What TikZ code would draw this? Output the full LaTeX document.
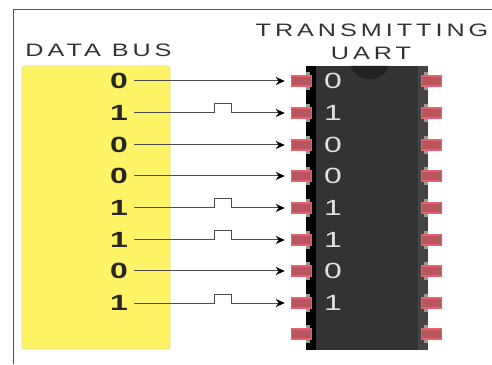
\documentclass[tikz,border=0pt]{standalone}
\usepackage{fontspec}
\setmainfont{Liberation Sans}
\newfontfamily\titlefont[FakeStretch=1.4,LetterSpace=22]{Liberation Sans}
\newfontfamily\digitfont[FakeStretch=1.45]{Liberation Sans}
\usetikzlibrary{arrows.meta}
\definecolor{framec}{HTML}{555555}
\definecolor{busc}{HTML}{FFF366}
\definecolor{busedge}{HTML}{E6DD80}
\definecolor{bodyc}{HTML}{333333}
\definecolor{stripc}{HTML}{444444}
\definecolor{pinc}{HTML}{B9555F}
\definecolor{pinedge}{HTML}{E8606A}
\definecolor{notchc}{HTML}{999999}
\definecolor{textc}{HTML}{333333}
\definecolor{dimplec}{HTML}{222222}
\tikzset{
  x=1pt,y=1pt,
  heading/.style={font=\titlefont\fontsize{18}{18}\selectfont,text=textc,inner sep=0pt},
  busdigit/.style={font=\digitfont\bfseries\fontsize{22}{22}\selectfont,text=black!85,inner sep=0pt,text height=15pt,text depth=0pt,anchor=center,minimum width=18pt},
  chipdigit/.style={font=\digitfont\fontsize{22}{22}\selectfont,text=white!88!black,inner sep=0pt,text height=15pt,text depth=0pt,anchor=center,minimum width=18pt},
  pinbox/.style={fill=pinc,draw=pinedge,line width=1.6pt,minimum width=20pt,minimum height=10pt,inner sep=0pt},
  wire/.style={draw=black!70,line width=1pt,-{Stealth[length=9pt,width=8pt,black]},shorten >=6pt},
}
\begin{document}
\begin{tikzpicture}
\useasboundingbox (0,0) rectangle (492,364);
\fill[white] (0,0) rectangle (492,364);
\draw[framec,line width=1pt] (13.5,0) -- (13.5,354) -- (492,354);
\node[heading] (busT) at (98.5,314) {DATA BUS};
\node[heading] (tx1) at (372,334) {TRANSMITTING};
\node[heading] (tx2) at (371,310.5) {UART};
\node[fill=busc,draw=busedge,line width=0.8pt,rounded corners=3pt,minimum width=148pt,minimum height=283pt,inner sep=0pt] (bus) at (96,156.5) {};
% chip
\node[fill=bodyc,minimum width=122pt,minimum height=284pt,inner sep=0pt] (chip) at (367,156) {};
\fill[black] (306,14) rectangle (316,298);
\fill[stripc] (418,14) rectangle (428,298);
\fill[dimplec] (351,298) arc[start angle=190,end angle=350,x radius=19,y radius=16] -- cycle;
\foreach \yy in {283,251,219,188,156,124,93,61,30}{
  \fill[notchc] (306,\yy-9) rectangle (310,\yy+9);
  \fill[notchc] (424,\yy-9) rectangle (428,\yy+9);
}
% pins
\foreach \n/\yy in {1/283,2/251,3/219,4/188,5/156,6/124,7/93,8/61,9/30}{
  \node[pinbox] (p\n) at (301.5,\yy) {};
  \node[pinbox] (q\n) at (431.5,\yy) {};
}
% digits
\foreach \n/\v/\yy in {1/0/283,2/1/251,3/0/219,4/0/188,5/1/156,6/1/124,7/0/93,8/1/61}{
  \node[busdigit] (d\n) at (119,\yy) {\v};
  \node[chipdigit] (c\n) at (333,\yy) {\v};
}
% wires
\foreach \n in {1,3,4,7}{
  \draw[wire] ([xshift=6pt]d\n.east) -- (p\n.west);
}
\foreach \n in {2,5,6,8}{
  \draw[wire] ([xshift=6pt]d\n.east) -- ++(80,0) -- ++(0,9) -- ++(17,0) -- ++(0,-9) -- (p\n.west);
}
\end{tikzpicture}
\end{document}
